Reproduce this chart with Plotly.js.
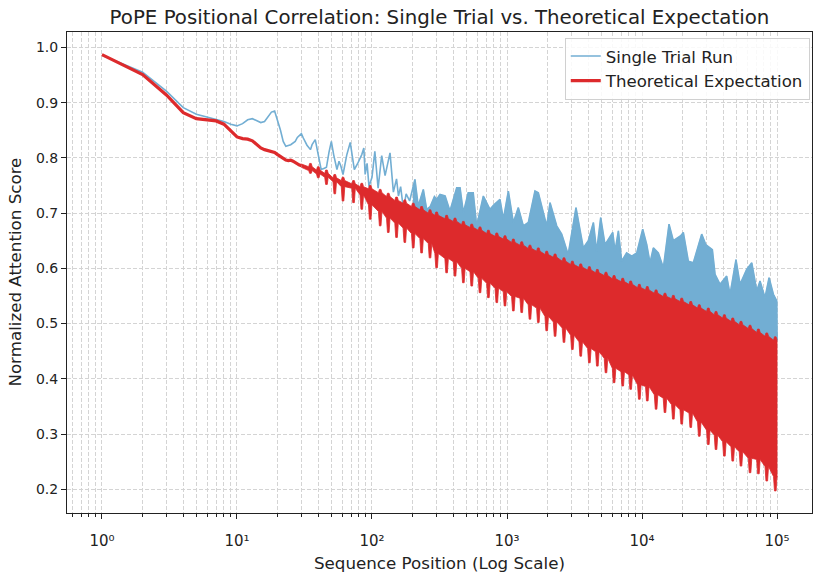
<!DOCTYPE html>
<html>
<head>
<meta charset="utf-8">
<script src="https://cdn.plot.ly/plotly-3.0.1.min.js"></script>
<style>
  body { margin: 0; background: #fff; }
  #chart { width: 815px; height: 580px; }
</style>
</head>
<body>
<div id="chart"></div>
<script>
// single trial run (position, score)
var trialPos = [1, 2, 3, 4, 5, 6, 7, 8, 9, 10, 11, 12, 13, 14, 15, 16, 17, 18, 19, 20,
  21, 22, 23, 25, 27, 28, 30, 31, 33, 35, 36, 38, 40, 42, 44, 46, 48, 50, 52, 55,
  57, 59, 61, 65, 69, 72, 74, 78, 84, 87, 89, 92, 95, 100, 105, 111, 118, 125, 136, 144,
  152, 157, 163, 171, 179, 190, 200, 208, 220, 240, 254, 270, 290, 301, 319, 348, 378, 424, 449, 475,
  516, 562, 596, 668, 748, 800, 887, 940, 1023, 1114, 1213, 1321, 1439, 1611, 1706, 1858, 1968, 2084, 2333, 2541,
  2838, 3243, 3475, 3673, 4000, 4365, 4613, 4943, 5321, 6067, 6310, 6683, 7063, 7691, 8395, 9141, 10120, 10840, 11460, 12130,
  13210, 14390, 15850, 17060, 19360, 20230, 22030, 23990, 27670, 29650, 33190, 34750, 37840, 42360, 44870, 49660, 53210, 59570, 65010, 70790,
  74820, 81470, 87300, 93970, 99540, 100000];
var trialScore = [0.986, 0.955, 0.921, 0.891, 0.879, 0.874, 0.871, 0.866, 0.861, 0.858, 0.862, 0.869, 0.871, 0.868, 0.864, 0.866, 0.874, 0.883, 0.885, 0.868,
  0.850, 0.830, 0.821, 0.824, 0.830, 0.837, 0.844, 0.836, 0.823, 0.815, 0.824, 0.833, 0.805, 0.779, 0.781, 0.783, 0.810, 0.830, 0.806, 0.779,
  0.794, 0.784, 0.770, 0.805, 0.828, 0.795, 0.779, 0.789, 0.806, 0.818, 0.770, 0.790, 0.748, 0.765, 0.812, 0.745, 0.804, 0.768, 0.809, 0.738,
  0.762, 0.731, 0.748, 0.707, 0.735, 0.722, 0.745, 0.761, 0.713, 0.743, 0.707, 0.712, 0.730, 0.725, 0.734, 0.731, 0.704, 0.746, 0.746, 0.701,
  0.737, 0.737, 0.677, 0.731, 0.707, 0.715, 0.725, 0.689, 0.740, 0.683, 0.710, 0.677, 0.683, 0.740, 0.737, 0.700, 0.677, 0.719, 0.677, 0.662,
  0.625, 0.710, 0.668, 0.637, 0.650, 0.683, 0.631, 0.692, 0.643, 0.665, 0.631, 0.668, 0.613, 0.628, 0.622, 0.628, 0.671, 0.643, 0.610, 0.637,
  0.628, 0.601, 0.680, 0.650, 0.659, 0.665, 0.613, 0.610, 0.662, 0.643, 0.634, 0.589, 0.571, 0.586, 0.553, 0.616, 0.571, 0.598, 0.610, 0.559,
  0.577, 0.547, 0.583, 0.553, 0.541, 0.470];

// theoretical expectation, smooth start
var expectPos = [1, 2, 3, 4, 5, 6, 7, 8, 9, 10, 11, 12, 13, 14, 15, 16, 17, 18, 19, 20,
  21, 22, 23, 24, 25, 26, 27, 28, 29, 30];
var expectScore = [0.987, 0.951, 0.914, 0.882, 0.871, 0.869, 0.867, 0.861, 0.848, 0.838, 0.835, 0.834, 0.831, 0.825, 0.818, 0.815, 0.813, 0.812, 0.810, 0.806,
  0.802, 0.798, 0.796, 0.795, 0.796, 0.794, 0.791, 0.789, 0.787, 0.786];

// theoretical expectation, oscillating part: one entry per visible stroke
var strokePos = [35, 40, 46, 53, 61, 73, 84, 97, 115, 132,
  152, 175, 202, 233, 269, 301, 357, 412, 475, 548,
  631, 728, 840, 966, 1114, 1285, 1479, 1706, 1968, 2270,
  2642, 3048, 3516, 4074, 4667, 5408, 6209, 7194, 8241, 9550,
  10940, 12710, 14790, 17060, 19680, 22960, 26550, 30970, 35320, 40740,
  46990, 54080, 63100, 72780, 83950, 97050];
var strokeTop = [0.790, 0.784, 0.778, 0.770, 0.765, 0.759, 0.754, 0.750, 0.743, 0.736,
  0.729, 0.724, 0.718, 0.712, 0.706, 0.702, 0.696, 0.691, 0.685, 0.680,
  0.675, 0.669, 0.664, 0.659, 0.653, 0.648, 0.642, 0.637, 0.631, 0.626,
  0.619, 0.613, 0.608, 0.603, 0.598, 0.593, 0.587, 0.582, 0.577, 0.571,
  0.567, 0.561, 0.555, 0.551, 0.546, 0.540, 0.534, 0.528, 0.522, 0.516,
  0.510, 0.504, 0.497, 0.490, 0.483, 0.476];
var strokeLow = [0.772, 0.764, 0.752, 0.735, 0.722, 0.719, 0.707, 0.689, 0.677, 0.665,
  0.656, 0.647, 0.637, 0.628, 0.619, 0.601, 0.592, 0.586, 0.574, 0.568,
  0.556, 0.547, 0.538, 0.532, 0.523, 0.520, 0.508, 0.502, 0.487, 0.477,
  0.466, 0.453, 0.441, 0.429, 0.423, 0.411, 0.393, 0.387, 0.381, 0.363,
  0.360, 0.345, 0.339, 0.327, 0.318, 0.312, 0.296, 0.281, 0.272, 0.260,
  0.251, 0.242, 0.230, 0.228, 0.215, 0.197];
var endPos = 100000, endTop = 0.466, endLow = 0.222;

var tickVals = [1, 10, 100, 1000, 10000, 100000];
var tickText = ['10⁰', '10¹', '10²', '10³', '10⁴', '10⁵'];
var yTickVals = [0.2, 0.3, 0.4, 0.5, 0.6, 0.7, 0.8, 0.9, 1.0];
var yTickText = ['0.2', '0.3', '0.4', '0.5', '0.6', '0.7', '0.8', '0.9', '1.0'];

var blue = '#72aed3', red = '#dd2a2c';

// stroke shape (log-space half widths and depths)
var wOuter = Math.pow(10, 0.013), wInner = Math.pow(10, 0.006);
var notch = 0.006, toothLen = 0.026, minBand = 0.007;

// red band outline
var rx = [], ry = [];
var last = expectPos.length - 1;
rx.push(expectPos[last]); ry.push(expectScore[last] + 0.003);
for (var i = 0; i < strokePos.length; i++) {
  var p = strokePos[i], t = strokeTop[i];
  rx.push(p / wOuter, p / wInner, p * wInner, p * wOuter);
  ry.push(t - notch, t, t, t - notch);
}
rx.push(endPos, endPos); ry.push(endTop, endLow);
for (var i = strokePos.length - 1; i >= 0; i--) {
  var p = strokePos[i], t = strokeTop[i];
  var lo = Math.min(strokeLow[i], t - notch - minBand);
  var floor = Math.min(lo + toothLen, t - notch - minBand);
  rx.push(p * wOuter, p * wInner, p / wInner, p / wOuter);
  ry.push(floor, lo, lo, floor);
}
rx.push(expectPos[last]); ry.push(expectScore[last] - 0.003);

// blue band: from the trial line down under the red band
var bx = [], by = [];
for (var i = 0; i < trialPos.length; i++) {
  if (trialPos[i] >= 200) { bx.push(trialPos[i]); by.push(trialScore[i]); }
}
for (var i = strokePos.length - 1; i >= 0; i--) {
  if (strokePos[i] >= 190) { bx.push(strokePos[i]); by.push(strokeTop[i] - 0.02); }
}

// minor log grid
var minorVals = [];
for (var k = -1; k <= 5; k++) {
  for (var m = 2; m <= 9; m++) {
    var v = m * Math.pow(10, k);
    if (v > 0.55 && v < 180000) minorVals.push(v);
  }
}

var data = [
  { x: bx, y: by, type: 'scatter', mode: 'lines', fill: 'toself', fillcolor: blue,
    line: { color: blue, width: 0.5 }, showlegend: false, hoverinfo: 'skip' },
  { x: trialPos, y: trialScore, type: 'scatter', mode: 'lines', name: 'Single Trial Run',
    line: { color: blue, width: 1.6 } },
  { x: rx, y: ry, type: 'scatter', mode: 'lines', fill: 'toself', fillcolor: red,
    line: { color: red, width: 0.8 }, showlegend: false, hoverinfo: 'skip' },
  { x: expectPos, y: expectScore, type: 'scatter', mode: 'lines', name: 'Theoretical Expectation',
    line: { color: red, width: 3.2 } }
];

var fam = 'DejaVu Sans, sans-serif';
var tickFont = { family: fam, size: 14, color: '#222' };
var labelFont = { family: fam, size: 16.7, color: '#222' };

var layout = {
  width: 815, height: 580,
  margin: { l: 67, r: 3, t: 32, b: 67 },
  paper_bgcolor: '#fff', plot_bgcolor: '#fff',
  font: tickFont,
  title: { text: 'PoPE Positional Correlation: Single Trial vs. Theoretical Expectation',
    font: { family: fam, size: 19.8, color: '#222' },
    x: 0.5, xref: 'paper', xanchor: 'center', y: 0.971, yref: 'container', yanchor: 'middle' },
  xaxis: {
    type: 'log', range: [-0.259, 5.259],
    tickvals: tickVals, ticktext: tickText, tickfont: { family: fam, size: 15, color: '#222' },
    ticks: 'outside', ticklen: 5, tickcolor: '#222', ticklabelstandoff: 9,
    showline: true, linecolor: '#222', linewidth: 1, mirror: true,
    showgrid: true, gridcolor: '#d4d4d4', griddash: '4px,2px', gridwidth: 1,
    zeroline: false, automargin: false,
    minor: { tickvals: minorVals, ticks: 'outside', ticklen: 3, tickcolor: '#222',
      showgrid: true, gridcolor: '#d4d4d4', griddash: '4px,2px', gridwidth: 1 }
  },
  yaxis: {
    range: [0.157, 1.028],
    tickvals: yTickVals, ticktext: yTickText, tickfont: tickFont,
    ticks: 'outside', ticklen: 5, tickcolor: '#222',
    showline: true, linecolor: '#222', linewidth: 1, mirror: true,
    showgrid: true, gridcolor: '#d4d4d4', griddash: '4px,2px', gridwidth: 1,
    zeroline: false, automargin: false
  },
  annotations: [
    { text: 'Sequence Position (Log Scale)', xref: 'paper', yref: 'paper',
      x: 0.5, y: -0.104, xanchor: 'center', yanchor: 'middle', showarrow: false, font: labelFont },
    { text: 'Normalized Attention Score', xref: 'paper', yref: 'paper', textangle: -90,
      x: -0.071, y: 0.5, xanchor: 'center', yanchor: 'middle', showarrow: false, font: labelFont }
  ],
  legend: {
    x: 0.997, xanchor: 'right', y: 0.988, yanchor: 'top',
    bgcolor: 'rgba(255,255,255,0.85)', bordercolor: '#d0d0d0', borderwidth: 1,
    font: { family: fam, size: 16.6, color: '#222' }
  },
  showlegend: true
};

Plotly.newPlot('chart', data, layout, { displayModeBar: false, staticPlot: true });
</script>
</body>
</html>
